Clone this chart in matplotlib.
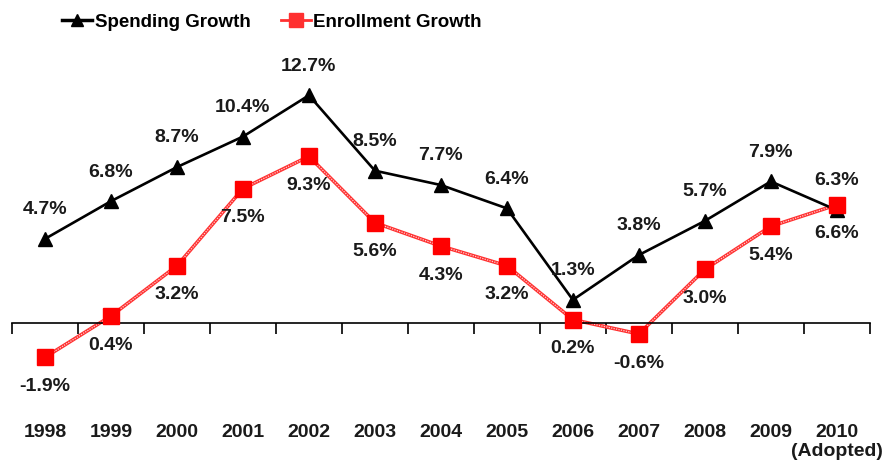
import matplotlib
matplotlib.use("Agg")
import matplotlib.pyplot as plt
from matplotlib.lines import Line2D
import numpy as np

years = ["1998", "1999", "2000", "2001", "2002", "2003", "2004",
         "2005", "2006", "2007", "2008", "2009", "2010"]
spending = [4.7, 6.8, 8.7, 10.4, 12.7, 8.5, 7.7, 6.4, 1.3, 3.8, 5.7, 7.9, 6.3]
enrollment = [-1.9, 0.4, 3.2, 7.5, 9.3, 5.6, 4.3, 3.2, 0.2, -0.6, 3.0, 5.4, 6.6]

plt.rcParams["font.family"] = ["Liberation Sans", "DejaVu Sans"]
plt.rcParams["font.weight"] = "bold"

fig = plt.figure(figsize=(8.88, 4.63), dpi=100)
ax = fig.add_axes([0.0135, 0.1469, 0.966, 0.6976])

x = np.arange(len(years))

# spending: black line with triangles
ax.plot(x, spending, color="black", lw=1.9, marker="^", ms=10,
        markerfacecolor="black", markeredgecolor="black", zorder=3, clip_on=False)

# enrollment: red "double" line with a pale dotted core
ax.plot(x, enrollment, color="#ff3030", lw=2.6, zorder=2, clip_on=False)
ax.plot(x, enrollment, color="#ffd0d0", lw=0.9, ls=(0, (1, 1)), zorder=2, clip_on=False)
ax.plot(x, enrollment, ls="none", marker="s", ms=11.5, color="#ff0000",
        markeredgecolor="#ff0000", zorder=4, clip_on=False)

lab_kw = dict(textcoords="offset points", ha="center", va="center",
              fontsize=14, fontweight="bold", color="#1a1a1a")
for xi, v in zip(x, spending):
    ax.annotate(f"{v:.1f}%", (xi, v), xytext=(0, 21), **lab_kw)
for xi, v in zip(x, enrollment):
    ax.annotate(f"{v:.1f}%", (xi, v), xytext=(0, -21), **lab_kw)

ax.set_xlim(-0.5, len(years) - 0.5)
ax.set_ylim(-4, 14)

# category axis drawn at zero, ticks between categories
for s in ("top", "right", "left"):
    ax.spines[s].set_visible(False)
ax.spines["bottom"].set_position(("data", 0))
ax.spines["bottom"].set_linewidth(1.2)
ax.set_yticks([])
ax.set_xticks(np.arange(-0.5, len(years), 1.0))
ax.tick_params(axis="x", direction="out", length=8, width=1.2, labelbottom=False)

for xi, yr in zip(x, years):
    ax.text(xi, -0.115, yr, transform=ax.get_xaxis_transform(), ha="center",
            va="center", fontsize=14, fontweight="bold", color="#1a1a1a")
ax.text(x[-1], -0.175, "(Adopted)", transform=ax.get_xaxis_transform(),
        ha="center", va="center", fontsize=14, fontweight="bold", color="#1a1a1a")

handles = [
    Line2D([], [], color="black", lw=2.5, marker="^", ms=9),
    Line2D([], [], color="#ff3030", lw=2.0, marker="s", ms=10),
]
fig.legend(handles, ["Spending Growth", "Enrollment Growth"], loc="center",
           bbox_to_anchor=(272 / 888, 1 - 22 / 463), ncol=2, frameon=False,
           fontsize=13.5, handlelength=1.6, handletextpad=0.15,
           columnspacing=1.6, borderpad=0.2)

fig.savefig("out.png", dpi=100)
